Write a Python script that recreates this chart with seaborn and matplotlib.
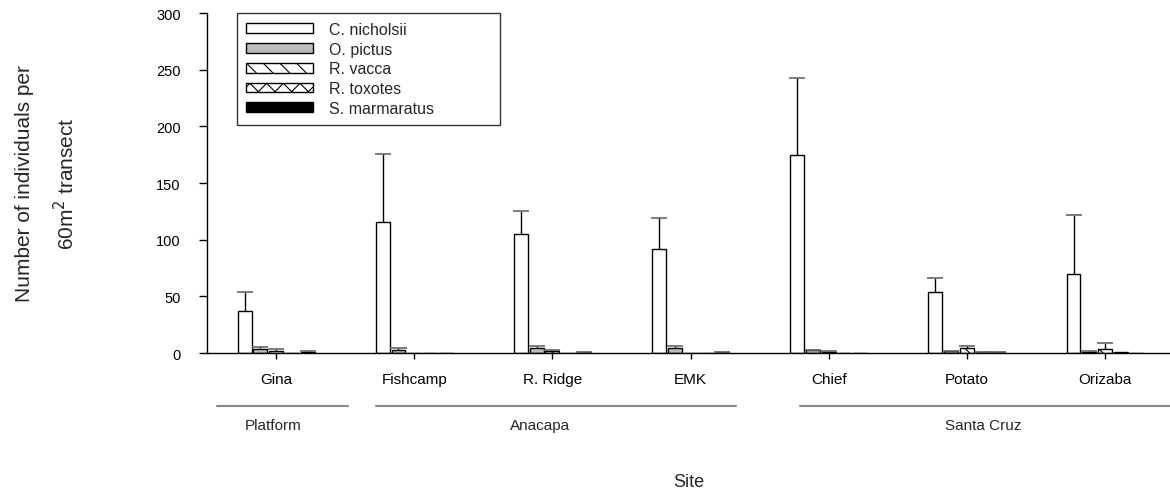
import pandas as pd
import matplotlib
matplotlib.use("Agg")
import matplotlib.pyplot as plt
import seaborn as sns

sns.set_style("ticks")
plt.rcParams["font.family"] = ["Liberation Sans", "DejaVu Sans"]
plt.rcParams["hatch.linewidth"] = 0.8

# -------- DATA --------
sites = ["Gina", "Fishcamp", "R. Ridge", "EMK", "Chief", "Potato", "Orizaba"]
species = ["C. nicholsii", "O. pictus", "R. vacca", "R. toxotes", "S. marmaratus"]

nicholsii = [37, 116, 105, 92, 175, 53.5, 69.5]
nicholsii_err = [17, 60, 20, 27, 68, 13, 52]
pictus = [3.5, 3.0, 4.5, 4.5, 2.5, 1.5, 1.2]
pictus_err = [1.5, 1.5, 2.0, 2.0, 0.5, 0.3, 0.8]
vacca = [1.5, 0.3, 1.5, 0.3, 1.2, 4.0, 3.5]
vacca_err = [2.0, 0.0, 1.2, 0.0, 1.0, 2.6, 5.0]
toxotes = [0.3, 0.0, 0.2, 0.2, 0.2, 1.0, 0.5]
toxotes_err = [0.0, 0.0, 0.0, 0.0, 0.0, 0.3, 0.0]
marmaratus = [1.2, 0.2, 0.5, 0.5, 0.3, 0.5, 0.3]
marmaratus_err = [0.8, 0.0, 0.2, 0.2, 0.0, 0.2, 0.0]

groups = ["Platform", "Anacapa", "Santa Cruz"]
group_spans = [(-0.43, 0.52), (0.72, 3.33), (3.79, 6.5)]
group_centers = [-0.02, 1.91, 5.12]

means = [nicholsii, pictus, vacca, toxotes, marmaratus]
errs = [nicholsii_err, pictus_err, vacca_err, toxotes_err, marmaratus_err]

rows = []
for sp, vals in zip(species, means):
    for site, v in zip(sites, vals):
        rows.append({"site": site, "species": sp, "count": v})
df = pd.DataFrame(rows)

colors = ["white", "#bdbdbd", "white", "white", "black"]
hatches = ["", "", "\\\\", "xx", ""]

# -------- PLOT --------
fig = plt.figure(figsize=(11.7, 5.02), dpi=100)
ax = fig.add_axes([207 / 1170, 1 - 354 / 502, 963 / 1170, 340 / 502])

sns.barplot(data=df, x="site", y="count", hue="species", order=sites,
            hue_order=species, palette=colors, saturation=1, width=0.57,
            gap=0.12, edgecolor="black", linewidth=1, errorbar=None,
            legend=False, ax=ax)

for cont, h, err in zip(ax.containers, hatches, errs):
    for p, e in zip(cont.patches, err):
        p.set_hatch(h)
        if e > 0:
            xc = p.get_x() + p.get_width() / 2
            top = p.get_height()
            ax.vlines(xc, top, top + e, color="black", lw=1, zorder=3)
            ax.hlines(top + e, xc - 0.058, xc + 0.058, color="#666666",
                      lw=1.2, zorder=3)

ax.set_xlim(-0.5, 6.47)
ax.set_ylim(0, 300)
ax.set_yticks(range(0, 301, 50))
ax.tick_params(axis="y", direction="out", length=6, width=1, pad=13,
               labelsize=10.5, colors="black")
ax.tick_params(axis="x", direction="out", length=4, width=1, pad=10,
               labelsize=11, colors="black")
sns.despine(ax=ax)
for s in ["left", "bottom"]:
    ax.spines[s].set_color("black")
    ax.spines[s].set_linewidth(1)
ax.set_xlabel("")
ax.set_ylabel("")

# group brackets below the axis
trans = ax.get_xaxis_transform()
for name, (x0, x1), xc in zip(groups, group_spans, group_centers):
    ax.plot([x0, x1], [-0.156, -0.156], transform=trans, color="#888888",
            lw=1.5, clip_on=False)
    ax.text(xc, -0.212, name, transform=trans, ha="center", va="center",
            fontsize=11)

ax.text(0.5, -0.379, "Site", transform=ax.transAxes, ha="center",
        va="center", fontsize=13)

fig.text(25 / 1170, 1 - 184 / 502, "Number of individuals per", rotation=90,
         ha="center", va="center", fontsize=15)
fig.text(66 / 1170, 1 - 184 / 502, "60m$^{2}$ transect", rotation=90,
         ha="center", va="center", fontsize=15)

leg = ax.legend(handles=ax.containers, labels=species, loc="upper left",
                bbox_to_anchor=(0.031, 0.67, 0.273, 0.33), mode="expand",
                borderaxespad=0, frameon=True, fancybox=False,
                edgecolor="black", fontsize=11.5, handlelength=4.2,
                handleheight=0.55, labelspacing=0.3, borderpad=0.55,
                handletextpad=1.0)
leg.get_frame().set_linewidth(1)

fig.savefig("out.png", dpi=100)
